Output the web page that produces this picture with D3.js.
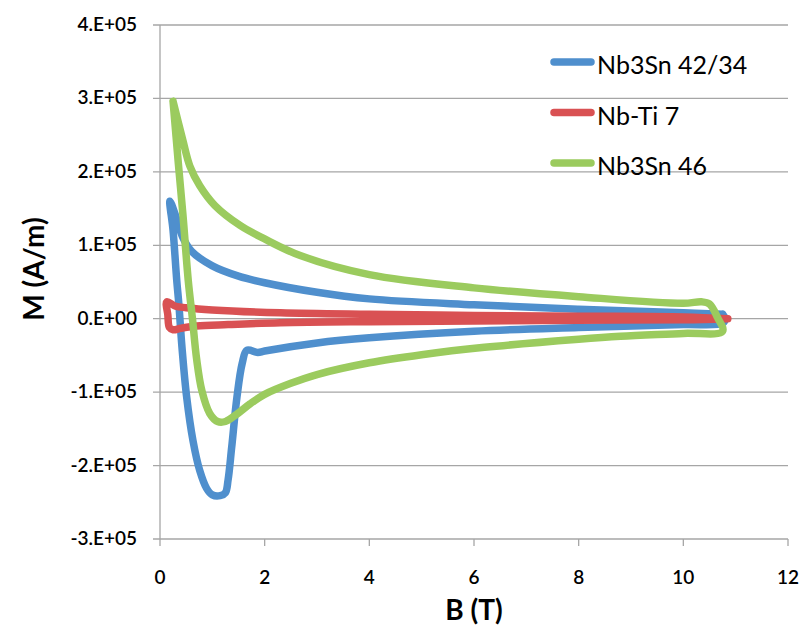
<!DOCTYPE html>
<html>
<head>
<meta charset="utf-8">
<script src="https://cdn.jsdelivr.net/npm/d3@7"></script>
<style>
  body { margin: 0; background: #fff; }
  text { font-family: Lato, "Open Sans", sans-serif; fill: #000; }
</style>
</head>
<body>
<div id="chart"></div>
<script>

// data: [B (T), M (A/m)], in drawing order
var seriesNames = ["Nb3Sn 42/34", "Nb-Ti 7", "Nb3Sn 46"];
var seriesColors = ["#4f8fcd", "#d95153", "#9bcb5e"];

var nb3sn4234 = [
  [10.75, 6000], [10, 8000], [8, 13000], [6, 19000], [4, 27000], [3, 36000],
  [2, 49000], [1.5, 58000], [1.0, 72000], [0.6, 92000], [0.44, 110000],
  [0.3, 140000], [0.19, 160000], [0.25, 120000], [0.32, 52000], [0.36, 20000],
  [0.42, -39000], [0.51, -107000], [0.63, -166000], [0.76, -207000],
  [0.89, -231000], [1.0, -240000], [1.15, -241000], [1.25, -237000],
  [1.3, -220000], [1.37, -175000], [1.47, -107000], [1.57, -61000],
  [1.66, -43000], [1.87, -46000], [2, -44000], [3, -33000], [4, -26000],
  [6, -17000], [8, -12000], [10, -8000], [10.75, -6000], [10.8, 0], [10.75, 6000]
];

var nbti7 = [
  [10.85, 0], [10, 2500], [8, 3500], [6, 4500], [4, 6000], [2.3, 8000],
  [1.0, 12000], [0.5, 15000], [0.3, 17000], [0.13, 23000], [0.15, 5000],
  [0.18, -12000], [0.25, -15000], [0.4, -13000], [0.7, -10000], [1.3, -8000],
  [2.3, -5500], [4, -4000], [6, -3000], [8, -2000], [10, -1500], [10.85, 0]
];

var nb3sn46 = [
  [0.25, 296000], [0.44, 242000], [0.57, 208000], [0.76, 181000], [1.05, 154000],
  [1.53, 127000], [1.99, 109000], [2.68, 86000], [4, 60000], [6, 42000],
  [8, 30000], [10, 21000], [10.35, 23000], [10.5, 20000], [10.65, 2000],
  [10.75, -17000], [10, -20000], [8.8, -24000], [8, -28000], [6.2, -39000],
  [5, -49000], [4, -60000], [3, -76000], [2.5, -88000], [2, -103000],
  [1.72, -116000], [1.45, -131000], [1.25, -140000], [1.1, -140000],
  [0.95, -129000], [0.8, -98000], [0.7, -55000], [0.62, 0], [0.54, 52000],
  [0.44, 140000], [0.35, 212000], [0.25, 296000]
];

var xTicks = [0, 2, 4, 6, 8, 10, 12];
var yTicks = [-300000, -200000, -100000, 0, 100000, 200000, 300000, 400000];
var yTickLabels = ["-3.E+05", "-2.E+05", "-1.E+05", "0.E+00", "1.E+05", "2.E+05", "3.E+05", "4.E+05"];

var allSeries = [nb3sn4234, nbti7, nb3sn46];

var margin = {top: 25, right: 19, bottom: 95, left: 160},
    width = 807 - margin.left - margin.right,
    height = 634 - margin.top - margin.bottom;

var svg = d3.select("#chart")
  .append("svg")
    .attr("width", 807)
    .attr("height", 634)
  .append("g")
    .attr("transform", "translate(" + margin.left + "," + margin.top + ")");

var x = d3.scaleLinear().domain([0, 12]).range([0, width]);
var y = d3.scaleLinear().domain([-300000, 400000]).range([height, 0]);

// horizontal gridlines
svg.append("g")
  .selectAll("line")
  .data(yTicks)
  .enter()
  .append("line")
    .attr("x1", -7)
    .attr("x2", width)
    .attr("y1", function (d) { return y(d); })
    .attr("y2", function (d) { return y(d); })
    .attr("stroke", "#a6a6a6")
    .attr("stroke-width", 1.3);

// y axis line
svg.append("line")
  .attr("x1", 0).attr("x2", 0)
  .attr("y1", 0).attr("y2", height)
  .attr("stroke", "#a6a6a6")
  .attr("stroke-width", 1.3);

// x ticks
svg.append("g")
  .selectAll("line")
  .data(xTicks)
  .enter()
  .append("line")
    .attr("x1", function (d) { return x(d); })
    .attr("x2", function (d) { return x(d); })
    .attr("y1", height)
    .attr("y2", height + 7)
    .attr("stroke", "#a6a6a6")
    .attr("stroke-width", 1.3);

svg.append("g")
  .selectAll("text")
  .data(xTicks)
  .enter()
  .append("text")
    .attr("x", function (d) { return x(d); })
    .attr("y", height + 45)
    .attr("text-anchor", "middle")
    .style("font-size", "19px")
    .style("font-weight", "600")
    .text(function (d) { return d; });

svg.append("g")
  .selectAll("text")
  .data(yTicks)
  .enter()
  .append("text")
    .attr("x", -23)
    .attr("y", function (d) { return y(d) + 6; })
    .attr("text-anchor", "end")
    .style("font-size", "19px")
    .style("font-weight", "600")
    .text(function (d, i) { return yTickLabels[i]; });

// axis titles
svg.append("text")
  .attr("x", x(6))
  .attr("y", height + 81)
  .attr("text-anchor", "middle")
  .style("font-size", "28px")
  .style("font-weight", "bold")
  .text("B (T)");

svg.append("text")
  .attr("transform", "translate(" + (44 - margin.left) + "," + (269 - margin.top) + ") rotate(-90)")
  .attr("text-anchor", "middle")
  .style("font-size", "28px")
  .style("font-weight", "bold")
  .text("M (A/m)");

// curves
var line = d3.line()
  .x(function (d) { return x(d[0]); })
  .y(function (d) { return y(d[1]); })
  .curve(d3.curveCatmullRom.alpha(0.5));

svg.append("g")
  .selectAll("path")
  .data(allSeries)
  .enter()
  .append("path")
    .attr("d", line)
    .attr("fill", "none")
    .attr("stroke", function (d, i) { return seriesColors[i]; })
    .attr("stroke-width", 7.5)
    .attr("stroke-linejoin", "round")
    .attr("stroke-linecap", "round");

// legend
var legend = svg.append("g")
  .attr("transform", "translate(" + (554 - margin.left) + "," + (62 - margin.top) + ")");

var items = legend.selectAll("g")
  .data(seriesNames)
  .enter()
  .append("g")
    .attr("transform", function (d, i) { return "translate(0," + (i * 50.5) + ")"; });

items.append("line")
  .attr("x1", 0).attr("x2", 37)
  .attr("y1", 0).attr("y2", 0)
  .attr("stroke", function (d, i) { return seriesColors[i]; })
  .attr("stroke-width", 7.5)
  .attr("stroke-linecap", "round");

items.append("text")
  .attr("x", 43)
  .attr("y", 12)
  .style("font-size", "25px")
  .text(function (d) { return d; });

</script>
</body>
</html>
